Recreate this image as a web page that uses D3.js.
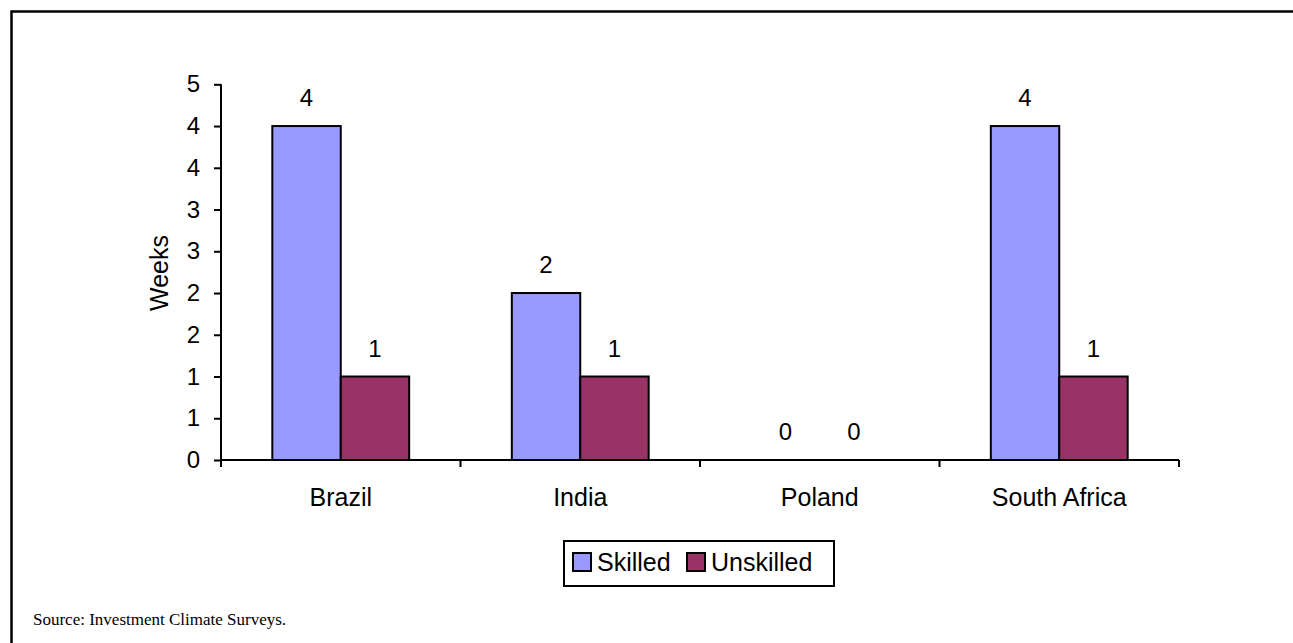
<!DOCTYPE html>
<html>
<head>
<meta charset="utf-8">
<script src="https://cdn.jsdelivr.net/npm/d3@7"></script>
<style>
  html, body { margin: 0; padding: 0; background: #fff; }
  svg { display: block; }
  text { font-family: "Liberation Sans", Arial, sans-serif; fill: #000; }
  text.note { font-family: "Liberation Serif", "Times New Roman", serif; }
</style>
</head>
<body>
<svg id="chart" width="1293" height="643"></svg>
<script>
// Weeks to fill a vacancy, by country and skill level
const categories = ["Brazil", "India", "Poland", "South Africa"];
const seriesNames = ["Skilled", "Unskilled"];
const skilled = [4, 2, 0, 4];
const unskilled = [1, 1, 0, 1];
const yTicks = [0, 0.5, 1, 1.5, 2, 2.5, 3, 3.5, 4, 4.5];
const yTickLabels = ["0", "1", "1", "2", "2", "3", "3", "4", "4", "5"];
const sourceNote = "Source: Investment Climate Surveys.";

const colors = { Skilled: "#9999FF", Unskilled: "#993366" };
const seriesValues = { Skilled: skilled, Unskilled: unskilled };

const svg = d3.select("#chart");

// outer frame (extends past the right and bottom edges)
svg.append("rect")
  .attr("x", 11.5).attr("y", 11.5)
  .attr("width", 1400).attr("height", 700)
  .attr("fill", "none").attr("stroke", "#000").attr("stroke-width", 2.5);

const plot = { left: 221, right: 1179, top: 84.3, bottom: 460 };

const x = d3.scaleBand().domain(categories).range([plot.left, plot.right]).padding(0);
const xInner = d3.scaleBand().domain(seriesNames).range([0, x.bandwidth()])
  .paddingInner(0).paddingOuter(0.75);
const y = d3.scaleLinear().domain([0, 4.5]).range([plot.bottom, plot.top]);

// bars
const groups = svg.append("g").selectAll("g")
  .data(categories).join("g")
  .attr("transform", d => `translate(${x(d)},0)`);

groups.selectAll("rect")
  .data((c, i) => seriesNames.map(s => ({ s, v: seriesValues[s][i] })))
  .join("rect")
  .filter(d => d.v > 0)
  .attr("x", d => xInner(d.s))
  .attr("y", d => y(d.v))
  .attr("width", xInner.bandwidth())
  .attr("height", d => y(0) - y(d.v))
  .attr("fill", d => colors[d.s])
  .attr("stroke", "#000").attr("stroke-width", 2);

// value labels
groups.selectAll("text.val")
  .data((c, i) => seriesNames.map(s => ({ s, v: seriesValues[s][i] })))
  .join("text")
  .attr("class", "val")
  .attr("x", d => xInner(d.s) + xInner.bandwidth() / 2)
  .attr("y", d => y(d.v) - 20)
  .attr("text-anchor", "middle")
  .attr("font-size", 24)
  .text(d => d3.format(".0f")(d.v));

// y axis
const yAxis = d3.axisLeft(y)
  .tickValues(yTicks)
  .tickFormat((d, i) => yTickLabels[i])
  .tickSize(7).tickPadding(14);
const gy = svg.append("g").attr("transform", `translate(${plot.left},0)`).call(yAxis);
gy.select(".domain").attr("d", `M0,${plot.top}V${plot.bottom}`)
  .attr("stroke", "#000").attr("stroke-width", 2);
gy.selectAll(".tick line").attr("stroke", "#000").attr("stroke-width", 2);
gy.selectAll(".tick text")
  .attr("font-family", null)
  .attr("font-size", 24).attr("fill", "#000");

// x axis with ticks between categories
const gx = svg.append("g").attr("transform", `translate(0,${plot.bottom})`);
gx.append("line")
  .attr("x1", plot.left).attr("x2", plot.right)
  .attr("stroke", "#000").attr("stroke-width", 2);
const boundaries = categories.map(c => x(c)).concat([plot.right]);
gx.selectAll("line.tk").data(boundaries).join("line")
  .attr("class", "tk")
  .attr("x1", d => d).attr("x2", d => d)
  .attr("y1", 0).attr("y2", 7)
  .attr("stroke", "#000").attr("stroke-width", 2);
gx.selectAll("text").data(categories).join("text")
  .attr("x", d => x(d) + x.bandwidth() / 2)
  .attr("y", 46)
  .attr("text-anchor", "middle")
  .attr("font-size", 25)
  .text(d => d);

// y axis title
svg.append("text")
  .attr("transform", "translate(168,273) rotate(-90)")
  .attr("text-anchor", "middle")
  .attr("font-size", 25)
  .text("Weeks");

// legend
const legend = svg.append("g");
legend.append("rect")
  .attr("x", 564).attr("y", 541).attr("width", 270).attr("height", 45)
  .attr("fill", "#fff").attr("stroke", "#000").attr("stroke-width", 2);
const legendX = { Skilled: 573, Unskilled: 687 };
const li = legend.selectAll("g").data(seriesNames).join("g")
  .attr("transform", d => `translate(${legendX[d]},553)`);
li.append("rect")
  .attr("width", 18).attr("height", 18)
  .attr("fill", d => colors[d])
  .attr("stroke", "#000").attr("stroke-width", 2);
li.append("text")
  .attr("x", 24).attr("y", 18)
  .attr("font-size", 25)
  .text(d => d);

// source note
svg.append("text")
  .attr("class", "note")
  .attr("x", 33).attr("y", 625)
  .attr("font-size", 17)
  .text(sourceNote);
</script>
</body>
</html>
